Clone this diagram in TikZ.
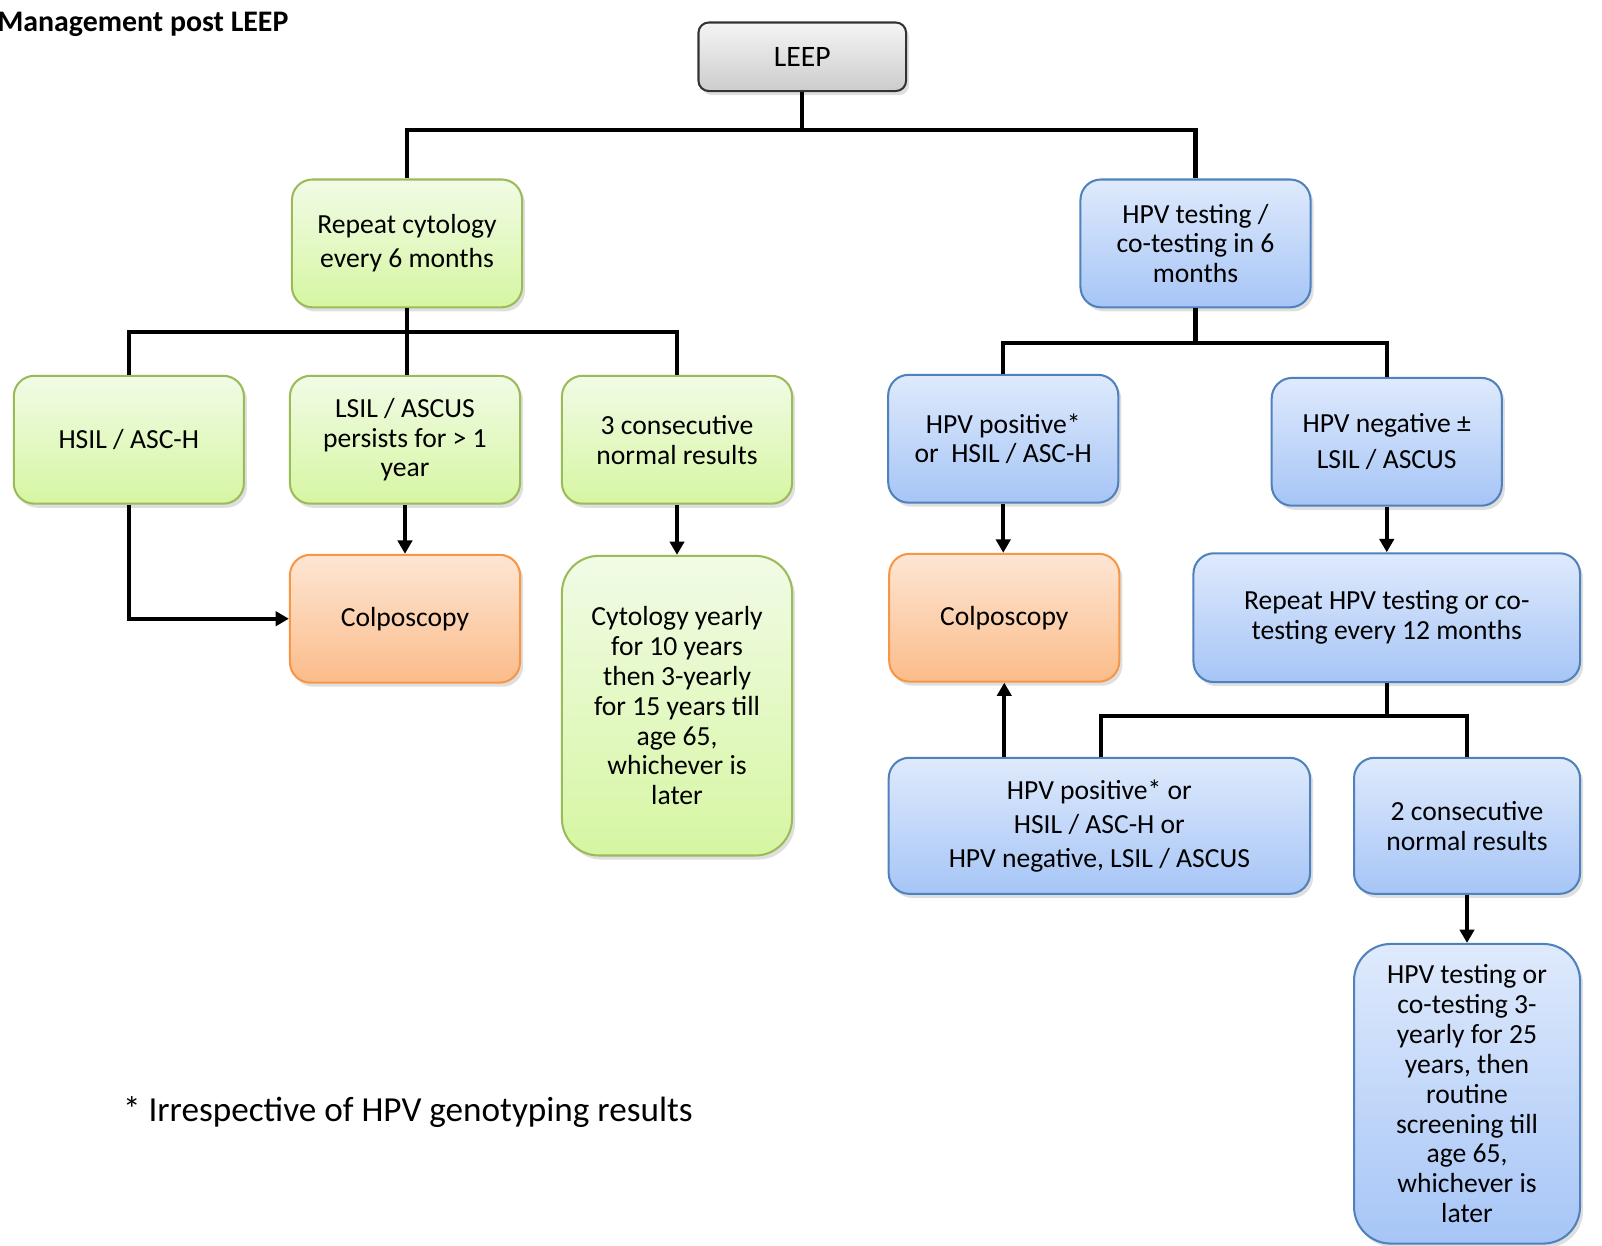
\documentclass[tikz,border=0pt]{standalone}
\usepackage{fontspec}
\setmainfont{Carlito}
\usepackage{tikz}
\usetikzlibrary{arrows.meta, shadows, positioning, calc}
\newcommand{\flowArrow}{{Triangle[length=6.5pt, width=7pt]}}

\definecolor{grnEdge}{HTML}{9BBB59}
\definecolor{grnTop}{HTML}{F1FBE6}
\definecolor{grnBot}{HTML}{D6F6A2}
\definecolor{bluEdge}{HTML}{4F81BD}
\definecolor{bluTop}{HTML}{DFEAFC}
\definecolor{bluBot}{HTML}{A6C5F6}
\definecolor{orgEdge}{HTML}{F79646}
\definecolor{orgTop}{HTML}{FDE6D4}
\definecolor{orgBot}{HTML}{FBBC8A}

\begin{document}
\begin{tikzpicture}[x=0.5pt, y=-0.5pt, font=\fontsize{13.5}{14.6}\selectfont,
	box/.style={rounded corners=10pt, draw, line width=1pt, align=center, inner sep=2pt,
		minimum width=112.5pt, minimum height=62.5pt,
		drop shadow={opacity=0.25, shadow xshift=1.5pt, shadow yshift=-2pt}},
	greenbox/.style={box, draw=grnEdge, top color=grnTop, bottom color=grnBot},
	bluebox/.style={box, draw=bluEdge, top color=bluTop, bottom color=bluBot},
	orangebox/.style={box, draw=orgEdge, top color=orgTop, bottom color=orgBot},
	graybox/.style={box, draw=black!80, top color=gray!8, bottom color=gray!40, rounded corners=5pt},
	tallbox/.style={minimum height=146.5pt, rounded corners=18pt},
	wire/.style={line width=2pt},
	flow/.style={wire, -\flowArrow}]
	\useasboundingbox (0,0) rectangle (1566.5,1217.5);

	\node[anchor=base west, inner sep=0, font=\bfseries\fontsize{14.6}{16}\selectfont] (title) at (-3,31) {Management post LEEP};
	\node[graybox, minimum width=101.5pt, minimum height=33.5pt, font=\fontsize{14.5}{16}\selectfont] (leep) at (784.5,55.5) {LEEP};

	% left branch
	\node[greenbox] (cyto) at (398,238) {Repeat cytology\\[2pt] every 6 months};
	\node[greenbox] (hsil) at (126,430) {HSIL / ASC-H};
	\node[greenbox] (lsil) at (396,430) {LSIL / ASCUS\\ persists for > 1\\ year};
	\node[greenbox] (cons3) at (662,430) {3 consecutive\\ normal results};
	\node[orangebox] (colpoL) at (396,605) {Colposcopy};
	\node[greenbox, tallbox] (cytyear) at (662,690) {Cytology yearly\\ for 10 years\\ then 3-yearly\\ for 15 years till\\ age 65,\\ whichever is\\ later};

	% right branch
	\node[bluebox] (hpvtest) at (1169,238) {HPV testing /\\ co-testing in 6\\ months};
	\node[bluebox] (hpvpos) at (981,429) {HPV positive*\\ or~ HSIL / ASC-H};
	\node[bluebox] (hpvneg) at (1356,432) {HPV negative ±\\[3pt] LSIL / ASCUS};
	\node[orangebox] (colpoR) at (982,604) {Colposcopy};
	\node[bluebox, minimum width=189pt, minimum height=63pt] (rephpv) at (1356,604) {Repeat HPV testing or co-\\ testing every 12 months};
	\node[bluebox, minimum width=206pt, minimum height=66.5pt] (mixed) at (1075,807.5) {HPV positive* or\\[2pt] HSIL / ASC-H or\\[2pt] HPV negative, LSIL / ASCUS};
	\node[bluebox, minimum width=110.5pt, minimum height=66.5pt] (cons2) at (1434.5,807.5) {2 consecutive\\ normal results};
	\node[bluebox, tallbox, minimum width=110.5pt] (final) at (1434.5,1069.5) {HPV testing or\\ co-testing 3-\\ yearly for 25\\ years, then\\ routine\\ screening till\\ age 65,\\ whichever is\\ later};

	\node[anchor=base west, inner sep=0, font=\fontsize{17.2}{19}\selectfont] (note) at (120,1097) {* Irrespective of HPV genotyping results};

	% connectors
	\coordinate (busA) at (784.5,127);
	\coordinate (busB) at (398,325);
	\coordinate (busC) at (1169,335);
	\coordinate (busD) at (1356,700);

	\draw[wire] (leep.south) -- (busA);
	\draw[wire] (cyto.north) |- (busA) -| (hpvtest.north);

	\draw[wire] (cyto.south) -- (busB);
	\draw[wire] (hsil.north) |- (busB) -| (cons3.north);
	\draw[wire] (lsil.north -| busB) -- (busB);
	\draw[flow] (hsil.south) |- (colpoL.west);
	\draw[flow] (lsil.south) -- (colpoL.north);
	\draw[flow] (cons3.south) -- (cytyear.north);

	\draw[wire] (hpvtest.south) -- (busC);
	\draw[wire] (hpvpos.north) |- (busC) -| (hpvneg.north);
	\draw[flow] (hpvpos.south) -- (colpoR.north -| hpvpos.south);
	\draw[flow] (hpvneg.south) -- (rephpv.north -| hpvneg.south);

	\draw[wire] (rephpv.south) -- (busD);
	\draw[wire] ($(mixed.north)+(2,0)$) |- (busD) -| (cons2.north);
	\draw[flow] (mixed.north -| colpoR.south) -- (colpoR.south);
	\draw[flow] (cons2.south) -- (final.north);
\end{tikzpicture}
\end{document}
